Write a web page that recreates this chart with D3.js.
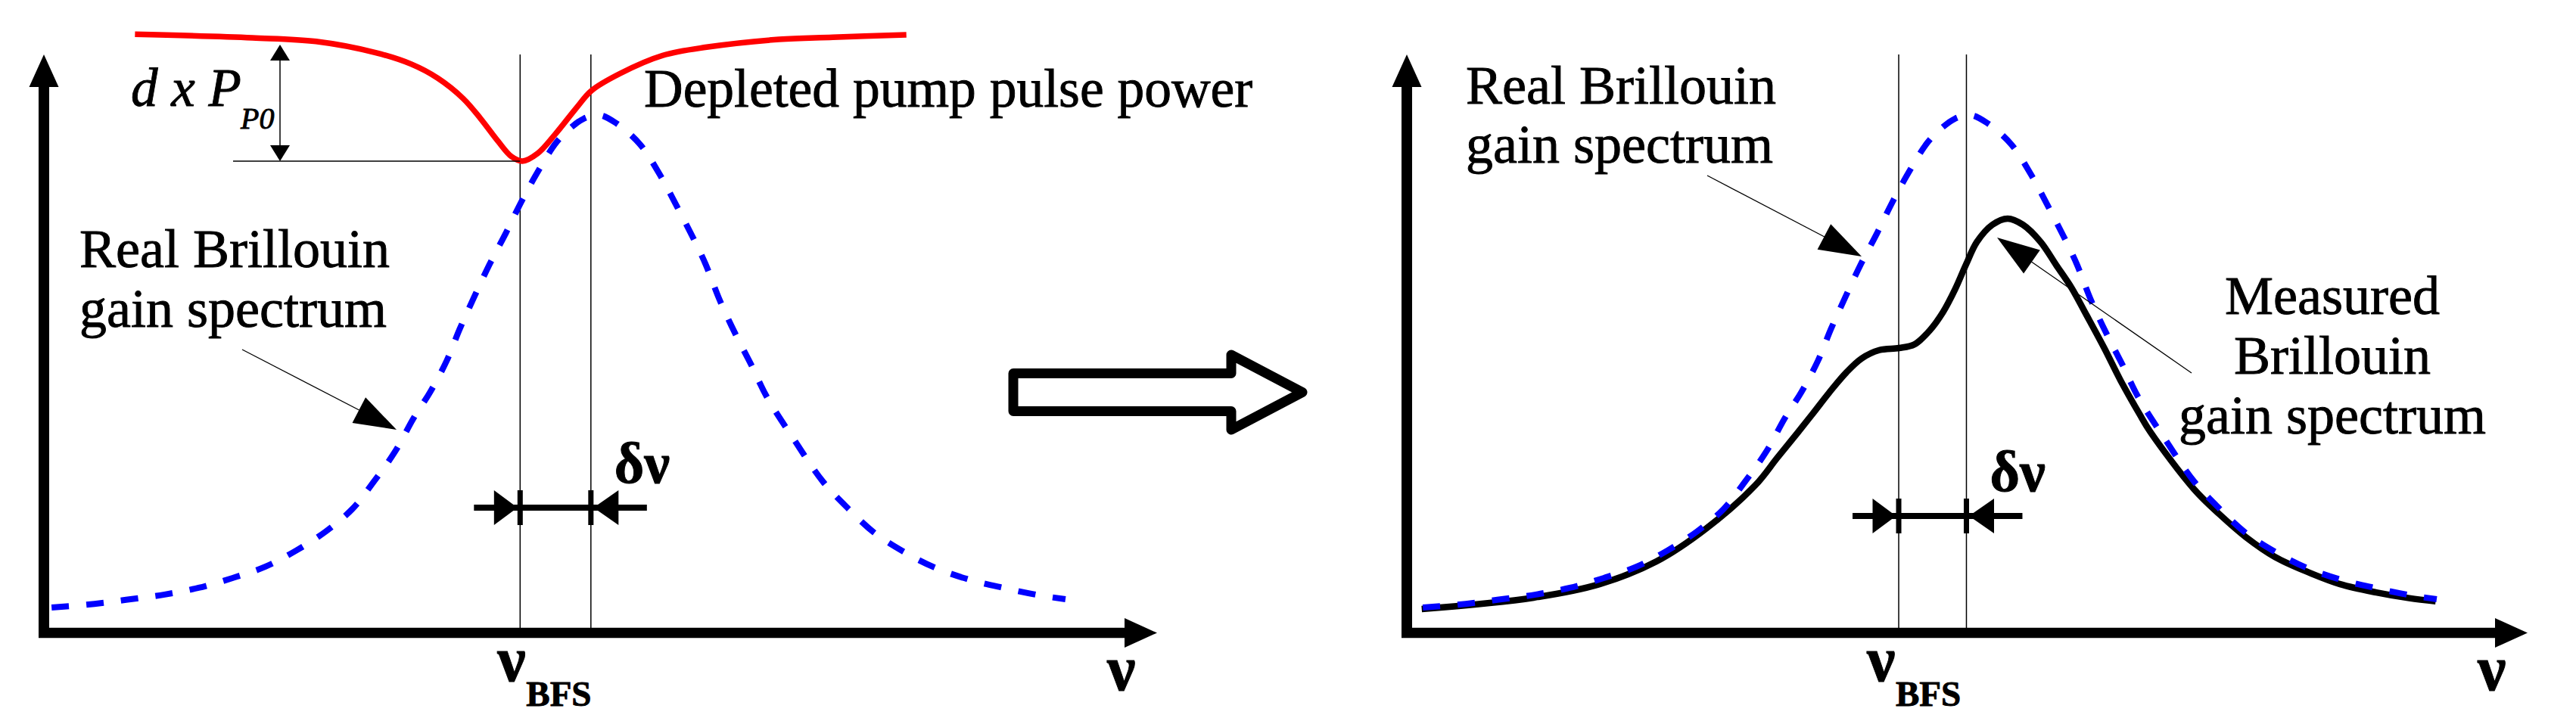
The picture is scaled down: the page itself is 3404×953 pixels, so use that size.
<!DOCTYPE html>
<html><head><meta charset="utf-8">
<script src="https://cdn.jsdelivr.net/npm/d3@7"></script>
<style>
html,body{margin:0;padding:0;background:#fff;}
svg{display:block;}
svg text{font-family:"Liberation Serif","Times New Roman",serif;fill:#000;stroke:#000;stroke-width:0.9px;}
</style>
</head><body>
<svg id="chart" width="3404" height="953"></svg>
<script>
// ---------------- data (frequency in arbitrary units 0..100, gain normalised to the real peak) ----------------
const realFreq = [0.7, 4.6, 7.9, 11.0, 14.1, 17.2, 20.2, 23.0, 25.7, 28.1, 30.0, 32.0, 33.7, 35.2, 36.7, 37.9, 39.2, 40.6, 42.1, 43.5, 45.0, 46.7, 48.0, 49.2, 50.6, 52.1, 54.3, 56.1, 57.7, 59.3, 60.3, 61.6, 63.0, 64.5, 65.9, 68.4, 71.0, 73.3, 75.7, 78.4, 81.2, 84.3, 87.4, 90.6, 93.1];
const realGain = [0.049, 0.056, 0.065, 0.074, 0.087, 0.106, 0.128, 0.159, 0.196, 0.239, 0.290, 0.350, 0.415, 0.465, 0.525, 0.587, 0.648, 0.711, 0.772, 0.832, 0.890, 0.947, 0.975, 0.993, 1.000, 0.985, 0.944, 0.886, 0.823, 0.757, 0.712, 0.642, 0.578, 0.516, 0.455, 0.372, 0.292, 0.240, 0.193, 0.156, 0.126, 0.103, 0.087, 0.073, 0.065];

const pumpFreq = [8.3, 19.0, 24.8, 30.3, 33.5, 35.9, 38.2, 39.8, 41.4, 42.6, 43.6, 45.0, 46.6, 48.5, 49.9, 52.5, 56.4, 60.4, 67.0, 71.9, 78.6];
const pumpPower = [1.156, 1.149, 1.142, 1.120, 1.098, 1.071, 1.032, 0.993, 0.949, 0.920, 0.911, 0.926, 0.963, 1.013, 1.047, 1.080, 1.115, 1.131, 1.146, 1.150, 1.155];

const measFreq = [0.6, 10.8, 16.8, 22.0, 26.5, 31.0, 33.0, 34.8, 36.3, 37.7, 39.3, 40.7, 42.3, 44.1, 45.5, 46.9, 48.1, 49.2, 50.2, 51.2, 52.6, 54.0, 55.4, 57.0, 58.4, 59.8, 61.2, 62.8, 64.3, 66.0, 67.0, 71.0, 73.3, 75.7, 78.4, 81.4, 84.3, 87.6, 90.6, 93.0];
const measGain = [0.046, 0.068, 0.094, 0.138, 0.201, 0.285, 0.338, 0.385, 0.425, 0.463, 0.503, 0.530, 0.546, 0.550, 0.557, 0.584, 0.619, 0.663, 0.711, 0.755, 0.788, 0.800, 0.788, 0.755, 0.711, 0.667, 0.613, 0.550, 0.487, 0.423, 0.388, 0.277, 0.229, 0.185, 0.146, 0.117, 0.094, 0.078, 0.067, 0.061];

// ν_BFS and ν_BFS + δν marker positions (frequency units)
const markersLeft = [43.4, 49.85];
const markersRight = [44.07, 50.24];

// text labels
const labelPump = "Depleted pump pulse power";
const labelReal = ["Real Brillouin", "gain spectrum"];
const labelMeasured = ["Measured", "Brillouin", "gain spectrum"];
const labelDelta = "\u03B4\u03BD";
const labelNu = "\u03BD";
const labelBFS = "BFS";

// ---------------- layout ----------------
const svg = d3.select("#chart");
const axisY = 836.5, axisTop = 72, markerTop = 72;
const y = d3.scaleLinear().domain([0, 1]).range([axisY, 152]);

const panels = [
  { id: "left", axisX: 58, axisEnd: 1529, x: d3.scaleLinear().domain([0, 100]).range([58, 1508]),
    markers: markersLeft, dimY: 671, nuDx: -30, subDx: 8, bfsBase: 900 },
  { id: "right", axisX: 1859, axisEnd: 3340, x: d3.scaleLinear().domain([0, 100]).range([1870, 3320]),
    markers: markersRight, dimY: 682, nuDx: -42, subDx: -4, bfsBase: 900 }
];

function tri(g, tip, from, len, hw) {
  const dx = tip[0] - from[0], dy = tip[1] - from[1];
  const L = Math.hypot(dx, dy), ux = dx / L, uy = dy / L;
  const bx = tip[0] - ux * len, by = tip[1] - uy * len;
  const px = -uy * hw, py = ux * hw;
  g.append("polygon")
    .attr("points", [[tip[0], tip[1]], [bx + px, by + py], [bx - px, by - py]].map(p => p.join(",")).join(" "))
    .attr("fill", "#000");
}

const real = realFreq.map((f, i) => [f, realGain[i]]);
const pump = pumpFreq.map((f, i) => [f, pumpPower[i]]);
const meas = measFreq.map((f, i) => [f, measGain[i]]);

panels.forEach(p => {
  const g = svg.append("g").attr("class", "panel-" + p.id);
  const x = p.x;
  const line = d3.line().x(d => x(d[0])).y(d => y(d[1])).curve(d3.curveCatmullRom.alpha(0.5));

  // marker lines
  p.markers.forEach(m => {
    g.append("line").attr("x1", x(m)).attr("x2", x(m)).attr("y1", markerTop).attr("y2", axisY)
      .attr("stroke", "#000").attr("stroke-width", 1.5);
  });

  // axes
  g.append("line").attr("x1", p.axisX).attr("x2", p.axisX).attr("y1", axisY + 6.5).attr("y2", axisTop + 40)
    .attr("stroke", "#000").attr("stroke-width", 14);
  tri(g, [p.axisX, axisTop], [p.axisX, axisY], 43, 19.5);
  g.append("line").attr("x1", p.axisX - 7).attr("x2", p.axisEnd - 40).attr("y1", axisY).attr("y2", axisY)
    .attr("stroke", "#000").attr("stroke-width", 13.5);
  tri(g, [p.axisEnd, axisY], [p.axisX, axisY], 43, 19.5);

  // measured gain (right panel)
  if (p.id === "right") {
    g.append("path").datum(meas).attr("d", line).attr("fill", "none")
      .attr("stroke", "#000").attr("stroke-width", 8.5).attr("stroke-linejoin", "round");
  }

  // real gain spectrum (dashed blue)
  g.append("path").datum(real).attr("d", line).attr("fill", "none")
    .attr("stroke", "#0000ff").attr("stroke-width", 8).attr("stroke-dasharray", "23,23");

  // depleted pump (left panel)
  if (p.id === "left") {
    g.append("path").datum(pump).attr("d", line).attr("fill", "none")
      .attr("stroke", "#ff0000").attr("stroke-width", 7.5).attr("stroke-linejoin", "round");
  }

  // δν dimension
  const m0 = x(p.markers[0]), m1 = x(p.markers[1]);
  g.append("line").attr("x1", m0 - 61).attr("x2", m1 + 74).attr("y1", p.dimY).attr("y2", p.dimY)
    .attr("stroke", "#000").attr("stroke-width", 8);
  [m0, m1].forEach(mx => {
    g.append("rect").attr("x", mx - 3.5).attr("y", p.dimY - 23).attr("width", 7).attr("height", 46).attr("fill", "#000");
  });
  tri(g, [m0 - 3.5, p.dimY], [m0 - 60, p.dimY], 31, 23);
  tri(g, [m1 + 3.5, p.dimY], [m1 + 60, p.dimY], 33, 23);
  g.append("text").attr("x", m1 + 31).attr("y", p.dimY - 33).text(labelDelta)
    .attr("font-weight", "bold").attr("font-size", 76);

  // ν_BFS label
  g.append("text").attr("x", m0 + p.nuDx).attr("y", p.bfsBase).text(labelNu)
    .attr("font-weight", "bold").attr("font-size", 84);
  g.append("text").attr("x", m0 + p.subDx).attr("y", 933).text(labelBFS)
    .attr("font-weight", "bold").attr("font-size", 47);

  // axis label ν
  g.append("text").attr("x", p.axisEnd - 66).attr("y", 912).text(labelNu)
    .attr("font-weight", "bold").attr("font-size", 84);
});

// ---------------- annotations ----------------
const ann = svg.append("g");
const txt = (xx, yy, s, size, extra) => {
  const t = ann.append("text").attr("x", xx).attr("y", yy).text(s).attr("font-size", size);
  if (extra) extra(t);
  return t;
};
txt(851, 141, labelPump, 71.5);
txt(105, 353, labelReal[0], 72);
txt(105, 432, labelReal[1], 72);
txt(173, 140, "d x P", 71, t => t.attr("font-style", "italic"));
txt(318, 170, "P0", 40, t => t.attr("font-style", "italic"));

// d x P_P0 dimension
ann.append("line").attr("x1", 308).attr("x2", panels[0].x(markersLeft[0])).attr("y1", 213).attr("y2", 213)
  .attr("stroke", "#000").attr("stroke-width", 1.5);
ann.append("line").attr("x1", 370).attr("x2", 370).attr("y1", 75).attr("y2", 200)
  .attr("stroke", "#000").attr("stroke-width", 1.5);
tri(ann, [370, 59], [370, 213], 21, 13);
tri(ann, [370, 213], [370, 59], 21, 13);

// leader: Real Brillouin (left)
ann.append("line").attr("x1", 320).attr("y1", 462).attr("x2", 490).attr("y2", 550)
  .attr("stroke", "#000").attr("stroke-width", 1.3);
tri(ann, [524, 568], [320, 462], 56, 19);

// right panel labels
txt(1937, 137, labelReal[0], 72);
txt(1937, 215, labelReal[1], 72);
labelMeasured.forEach((s, i) => txt(3082, 415 + i * 79, s, 72, t => t.attr("text-anchor", "middle")));

ann.append("line").attr("x1", 2256).attr("y1", 232).attr("x2", 2430).attr("y2", 323)
  .attr("stroke", "#000").attr("stroke-width", 1.3);
tri(ann, [2460, 339], [2256, 232], 56, 19);

ann.append("line").attr("x1", 2896).attr("y1", 493).attr("x2", 2670).attr("y2", 336)
  .attr("stroke", "#000").attr("stroke-width", 1.3);
tri(ann, [2639, 314], [2896, 493], 56, 19);

// big hollow arrow between panels
ann.append("path")
  .attr("d", "M1339,493.5 L1627,493.5 L1627,469 L1721,518.5 L1627,568 L1627,543.5 L1339,543.5 Z")
  .attr("fill", "none").attr("stroke", "#000").attr("stroke-width", 13).attr("stroke-linejoin", "round");
</script>
</body></html>
